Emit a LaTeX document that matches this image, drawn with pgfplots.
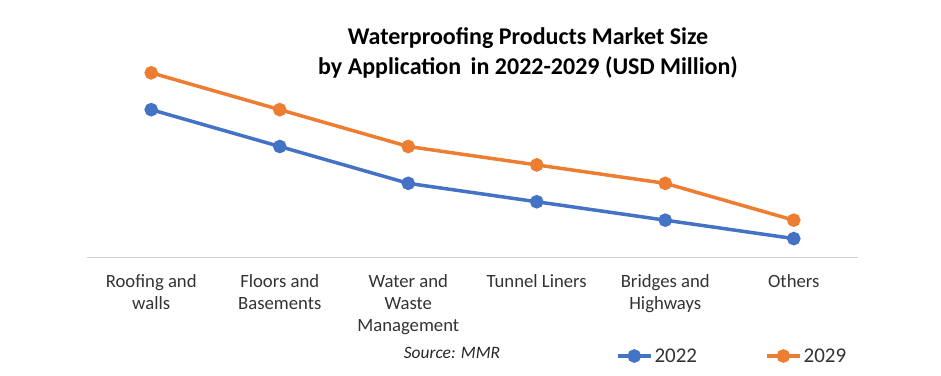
\documentclass[border=0pt]{standalone}
\usepackage{pgfplots}
\pgfplotsset{compat=1.18}
\usepackage{fontspec}
\setmainfont{Carlito}
\definecolor{cb}{HTML}{4472C4}
\definecolor{co}{HTML}{ED7D31}
\begin{document}
\begin{tikzpicture}[x=1pt,y=1pt]
\useasboundingbox (0,0) rectangle (941,375);
\begin{axis}[
  at={(87pt,118pt)}, anchor=south west,
  scale only axis, width=771pt, height=221pt,
  xmin=-0.5, xmax=5.5, ymin=0, ymax=12,
  hide y axis, axis x line*=bottom,
  x axis line style={draw=black!18, line width=1pt, -},
  xtick={0,...,5}, major tick length=0pt,
  xticklabels={{Roofing and\\walls},{Floors and\\Basements},{Water and\\Waste\\Management},{Tunnel Liners},{Bridges and\\Highways},{Others}},
  xticklabel style={align=center, font=\fontsize{18.7}{22}\selectfont, text=black!80, yshift=-14pt},
  legend columns=2,
  legend style={draw=none, at={(0.682,-0.448)}, anchor=west, font=\fontsize{21}{24}\selectfont, text=black!80,
    /tikz/every even column/.append style={column sep=66pt}},
  legend image code/.code={\draw[mark repeat=2,mark phase=2,#1] plot coordinates {(0pt,0pt) (16.5pt,0pt) (33pt,0pt)};},
  clip=false,
]
\addplot[cb, line width=3.5pt, mark=*, mark size=5pt, mark options={solid}] coordinates {(0,8) (1,6) (2,4) (3,3) (4,2) (5,1)};
\addlegendentry{2022}
\addplot[co, line width=3.5pt, mark=*, mark size=5pt, mark options={solid}] coordinates {(0,10) (1,8) (2,6) (3,5) (4,4) (5,2)};
\addlegendentry{2029}
\end{axis}
\node[font=\bfseries\fontsize{24}{30}\selectfont, align=center, text=black] at (528,322) {Waterproofing Products Market Size\\by Application\, in 2022-2029 (USD Million)};
\node[font=\itshape\fontsize{17.4}{20}\selectfont, text=black!85] at (452,22) {Source: MMR};
\end{tikzpicture}
\end{document}
